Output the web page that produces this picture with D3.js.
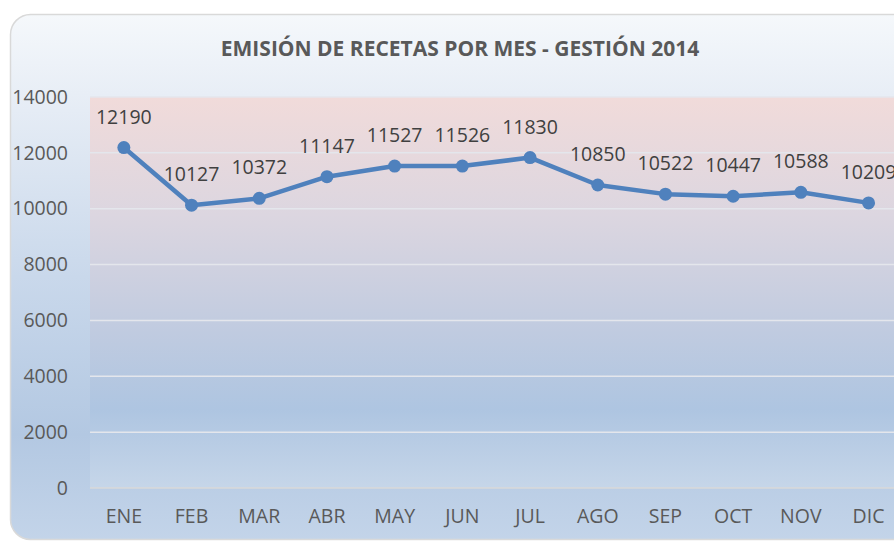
<!DOCTYPE html>
<html>
<head>
<meta charset="utf-8">
<script src="https://cdn.jsdelivr.net/npm/d3@7"></script>
<style>
	html, body { margin: 0; padding: 0; background: #fff; overflow: hidden; }
	text { font-family: "Open Sans", sans-serif; }
</style>
</head>
<body>
<div id="chart"></div>
<script>
// our data
const months = ['ENE', 'FEB', 'MAR', 'ABR', 'MAY', 'JUN', 'JUL', 'AGO', 'SEP', 'OCT', 'NOV', 'DIC']
const recetas = [12190, 10127, 10372, 11147, 11527, 11526, 11830, 10850, 10522, 10447, 10588, 10209]
const yTicks = [0, 2000, 4000, 6000, 8000, 10000, 12000, 14000]
const title = 'EMISIÓN DE RECETAS POR MES - GESTIÓN 2014'

const width = 894
const height = 543

// plot area (runs off the right edge, like the original screenshot)
const plot = {left: 90, top: 97, bottom: 488}
const step = 67.7
const plotRight = plot.left + step * months.length

const fontSize = 19.5

const $svg = d3.select('#chart')
	.append('svg')
	.attr('width', width)
	.attr('height', height)

const defs = $svg.append('defs')

// outer background gradient
const outerGrad = defs.append('linearGradient')
	.attr('id', 'outerGrad')
	.attr('x1', 0).attr('y1', 0).attr('x2', 0).attr('y2', 1)
outerGrad.selectAll('stop')
	.data([
		{o: 0, c: '#f5f8fb'},
		{o: 0.15, c: '#e8eef6'},
		{o: 0.5, c: '#c9d8eb'},
		{o: 0.8, c: '#b3c8e2'},
		{o: 1, c: '#c3d4e9'}
	])
	.join('stop')
	.attr('offset', d => d.o)
	.attr('stop-color', d => d.c)

// plot area gradient, pink on top to blue
const plotGrad = defs.append('linearGradient')
	.attr('id', 'plotGrad')
	.attr('x1', 0).attr('y1', 0).attr('x2', 0).attr('y2', 1)
plotGrad.selectAll('stop')
	.data([
		{o: 0, c: '#f1dbda'},
		{o: 0.3, c: '#dcd6e0'},
		{o: 0.6, c: '#c0cbe0'},
		{o: 0.8, c: '#aec5e1'},
		{o: 1, c: '#c6d6e9'}
	])
	.join('stop')
	.attr('offset', d => d.o)
	.attr('stop-color', d => d.c)

// chart box
$svg.append('rect')
	.attr('x', 10.5)
	.attr('y', 14.5)
	.attr('width', 920)
	.attr('height', 525)
	.attr('rx', 20)
	.attr('fill', 'url(#outerGrad)')
	.attr('stroke', '#d9d9d9')
	.attr('stroke-width', 1.5)

$svg.append('rect')
	.attr('x', plot.left)
	.attr('y', plot.top)
	.attr('width', plotRight - plot.left)
	.attr('height', plot.bottom - plot.top)
	.attr('fill', 'url(#plotGrad)')

// title
$svg.append('text')
	.attr('x', 460)
	.attr('y', 56)
	.attr('text-anchor', 'middle')
	.attr('font-size', 21)
	.attr('font-weight', 'bold')
	.attr('fill', '#595959')
	.text(title)

// scales
const x = d3.scaleBand()
	.domain(months)
	.range([plot.left, plotRight])

const y = d3.scaleLinear()
	.domain([0, 14000])
	.range([plot.bottom, plot.top])

// gridlines
$svg.append('g')
	.selectAll('line')
	.data(yTicks)
	.join('line')
	.attr('x1', plot.left)
	.attr('x2', plotRight)
	.attr('y1', d => y(d))
	.attr('y2', d => y(d))
	.attr('stroke', d => d === 0 ? '#d9d9d9' : '#e4e6ec')
	.attr('stroke-width', 1.5)

// y axis labels
const yAxis = $svg.append('g')
	.attr('transform', `translate(${plot.left - 22}, 0)`)
	.call(d3.axisLeft(y).tickValues(yTicks).tickSize(0).tickPadding(0).tickFormat(d3.format('d')))
yAxis.select('.domain').remove()
yAxis.selectAll('text')
	.attr('font-family', '"Open Sans", sans-serif')
	.attr('font-size', fontSize)
	.attr('fill', '#595959')

// x axis labels
const xAxis = $svg.append('g')
	.attr('transform', `translate(0, ${plot.bottom + 21})`)
	.call(d3.axisBottom(x).tickSize(0).tickPadding(0))
xAxis.select('.domain').remove()
xAxis.selectAll('text')
	.attr('font-family', '"Open Sans", sans-serif')
	.attr('font-size', fontSize)
	.attr('fill', '#595959')

// the line
const points = months.map((m, i) => ({month: m, value: recetas[i]}))
const cx = d => x(d.month) + x.bandwidth() / 2

$svg.append('path')
	.datum(points)
	.attr('d', d3.line().x(cx).y(d => y(d.value)))
	.attr('fill', 'none')
	.attr('stroke', '#4f81bd')
	.attr('stroke-width', 4.5)
	.attr('stroke-linejoin', 'round')

$svg.append('g')
	.selectAll('circle')
	.data(points)
	.join('circle')
	.attr('cx', cx)
	.attr('cy', d => y(d.value))
	.attr('r', 6.5)
	.attr('fill', '#4f81bd')

// value labels
$svg.append('g')
	.selectAll('text')
	.data(points)
	.join('text')
	.attr('x', cx)
	.attr('y', d => y(d.value) - 24)
	.attr('text-anchor', 'middle')
	.attr('font-size', fontSize)
	.attr('fill', '#404040')
	.text(d => d.value)
</script>
</body>
</html>
